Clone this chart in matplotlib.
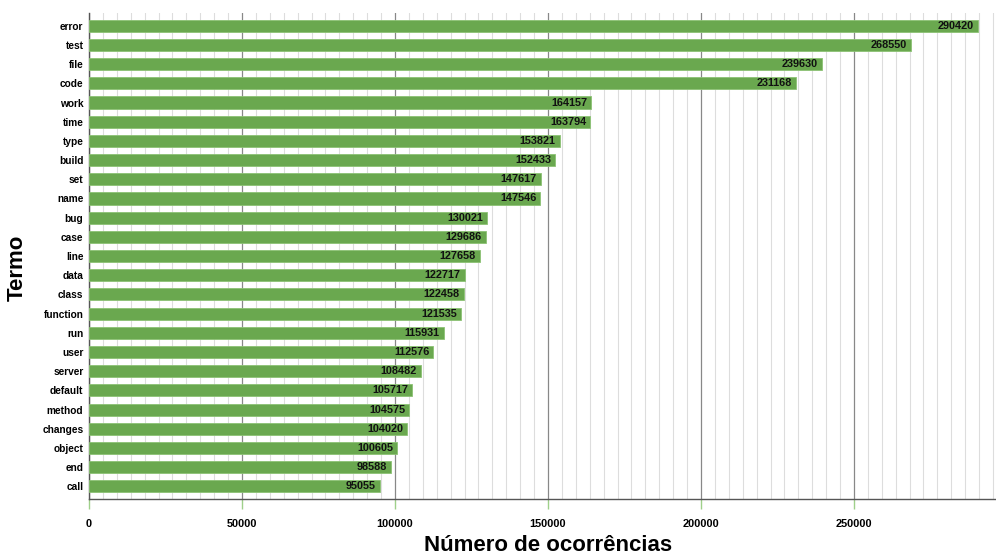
import matplotlib.pyplot as plt
from matplotlib.ticker import AutoMinorLocator, MultipleLocator

plt.rcParams['font.family'] = ['Liberation Sans', 'DejaVu Sans']

termos = ['error', 'test', 'file', 'code', 'work', 'time', 'type', 'build', 'set',
          'name', 'bug', 'case', 'line', 'data', 'class', 'function', 'run', 'user',
          'server', 'default', 'method', 'changes', 'object', 'end', 'call']
ocorrencias = [290420, 268550, 239630, 231168, 164157, 163794, 153821, 152433, 147617,
               147546, 130021, 129686, 127658, 122717, 122458, 121535, 115931, 112576,
               108482, 105717, 104575, 104020, 100605, 98588, 95055]

fig, ax = plt.subplots(figsize=(9.96, 5.54), dpi=100)
fig.subplots_adjust(left=0.0894, right=0.999, top=0.977, bottom=0.099)

pos = list(range(len(termos)))
ax.barh(pos, ocorrencias, height=0.63, color='#6aa84f', edgecolor='#8cc274',
        linewidth=0.6, zorder=3)

for y, v in zip(pos, ocorrencias):
    ax.text(v - 1300, y, str(v), ha='right', va='center', fontsize=7.8,
            fontweight='bold', color='#111111', zorder=4)

ax.set_yticks(pos)
ax.set_yticklabels(termos, fontsize=7.3, fontweight='bold')
ax.set_ylim(len(termos) - 0.33, -0.68)
ax.set_xlim(0, 296100)

ax.xaxis.set_major_locator(MultipleLocator(50000))
ax.xaxis.set_minor_locator(AutoMinorLocator(11))
ax.grid(axis='x', which='major', color='#888888', linewidth=0.9, zorder=0)
ax.grid(axis='x', which='minor', color='#dddddd', linewidth=0.8, zorder=0)

for lbl in ax.get_xticklabels():
    lbl.set_fontweight('bold')
ax.tick_params(axis='x', which='major', length=7, width=1, color='#9fd08a',
               labelsize=7.9, pad=7)
ax.tick_params(axis='x', which='minor', length=0)
ax.tick_params(axis='y', length=0, pad=4)

for s in ['top', 'right']:
    ax.spines[s].set_visible(False)
for s in ['left', 'bottom']:
    ax.spines[s].set_color('#555555')
    ax.spines[s].set_linewidth(1)

fig.text(0.55, 0.016, 'Número de ocorrências', fontsize=16, fontweight='bold',
         ha='center', va='center')
fig.text(0.017, 0.516, 'Termo', fontsize=16, fontweight='bold', rotation=90,
         ha='center', va='center')

fig.savefig('out.png', dpi=100)
